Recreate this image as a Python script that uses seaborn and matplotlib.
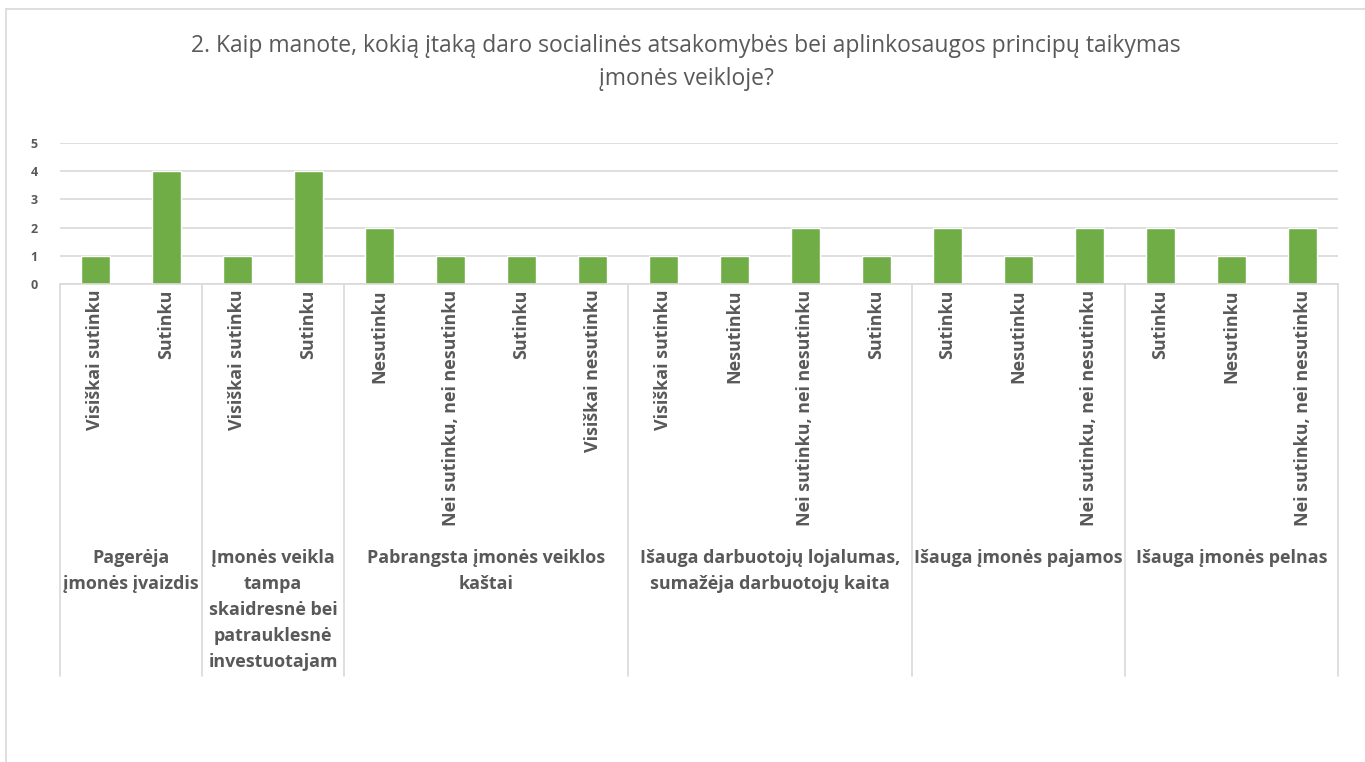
import pandas as pd
import seaborn as sns
import matplotlib.pyplot as plt
import matplotlib.transforms as mtransforms
from matplotlib.lines import Line2D

# survey answers (one bar per answer, grouped by statement)
groups = [
    "Pagerėja\nįmonės įvaizdis",
    "Įmonės veikla\ntampa\nskaidresnė bei\npatrauklesnė\ninvestuotajam",
    "Pabrangsta įmonės veiklos\nkaštai",
    "Išauga darbuotojų lojalumas,\nsumažėja darbuotojų kaita",
    "Išauga įmonės pajamos",
    "Išauga įmonės pelnas",
]
answers = [
    ["Visiškai sutinku", "Sutinku"],
    ["Visiškai sutinku", "Sutinku"],
    ["Nesutinku", "Nei sutinku, nei nesutinku", "Sutinku", "Visiškai nesutinku"],
    ["Visiškai sutinku", "Nesutinku", "Nei sutinku, nei nesutinku", "Sutinku"],
    ["Sutinku", "Nesutinku", "Nei sutinku, nei nesutinku"],
    ["Sutinku", "Nesutinku", "Nei sutinku, nei nesutinku"],
]
counts = [
    [1, 4],
    [1, 4],
    [2, 1, 1, 1],
    [1, 1, 2, 1],
    [2, 1, 2],
    [2, 1, 2],
]
title = ("2. Kaip manote, kokią įtaką daro socialinės atsakomybės bei aplinkosaugos principų taikymas\n"
         "įmonės veikloje?")

rows = []
for gi, g in enumerate(groups):
    for a, c in zip(answers[gi], counts[gi]):
        rows.append({"key": f"{gi}|{a}", "group": gi, "answer": a, "count": c})
df = pd.DataFrame(rows)

sns.set_theme(style="white")
plt.rcParams["font.family"] = ["Open Sans", "DejaVu Sans"]

GRAY = "#595959"
LINE = "#D9D9D9"

fig = plt.figure(figsize=(13.65, 7.62), dpi=100)
W, H = 1365, 762
x0, x1, y0, y5 = 60, 1338, 284, 143
ax = fig.add_axes([x0 / W, (H - y0) / H, (x1 - x0) / W, (y0 - y5) / H])

sns.barplot(data=df, x="key", y="count", order=list(df["key"]), color="#70AD47",
            width=0.4, saturation=1, ax=ax)

ax.set_ylim(0, 5)
ax.set_xlim(-0.5, len(df) - 0.5)
ax.set_yticks(range(6))
ax.set_yticklabels([str(v) for v in range(6)], fontsize=9, fontweight="bold", color=GRAY)
ax.yaxis.grid(True, color=LINE, linewidth=1.2)
ax.set_axisbelow(True)
for s in ["left", "right", "top"]:
    ax.spines[s].set_visible(False)
ax.spines["bottom"].set_color(LINE)
ax.spines["bottom"].set_linewidth(1.2)
ax.tick_params(axis="both", length=0)
ax.tick_params(axis="y", pad=16)
ax.tick_params(axis="x", pad=4)
ax.set_xticks(range(len(df)))
ax.set_xticklabels(df["answer"], rotation=90, fontsize=12.9, fontweight="bold", color=GRAY)
ax.set_xlabel("")
ax.set_ylabel("")

# group separators and group labels below the answers
trans = mtransforms.blended_transform_factory(ax.transData, ax.transAxes)
bottom_ax = (y0 - 676) / (y0 - y5)
label_ax = (y0 - 549) / (y0 - y5)
edges = [-0.5]
for gi in range(len(groups)):
    edges.append(edges[-1] + len(answers[gi]))
for e in edges:
    ax.plot([e, e], [0, bottom_ax], color=LINE, linewidth=1.2, transform=trans, clip_on=False)
for gi, g in enumerate(groups):
    mid = (edges[gi] + edges[gi + 1]) / 2
    ax.text(mid, label_ax, g, transform=trans, ha="center", va="top", fontsize=12.9,
            fontweight="bold", color=GRAY, linespacing=1.57, multialignment="center")

fig.text(686 / W, 1 - 34 / H, title, ha="center", va="top", fontsize=16.5, color=GRAY,
         linespacing=1.5)

# chart frame (top and left edges visible)
fig.add_artist(Line2D([6 / W, 1], [1 - 9 / H, 1 - 9 / H], color=LINE, linewidth=1.2,
                      transform=fig.transFigure))
fig.add_artist(Line2D([6 / W, 6 / W], [0, 1 - 9 / H], color=LINE, linewidth=1.2,
                      transform=fig.transFigure))

fig.savefig("out.png", dpi=100)
